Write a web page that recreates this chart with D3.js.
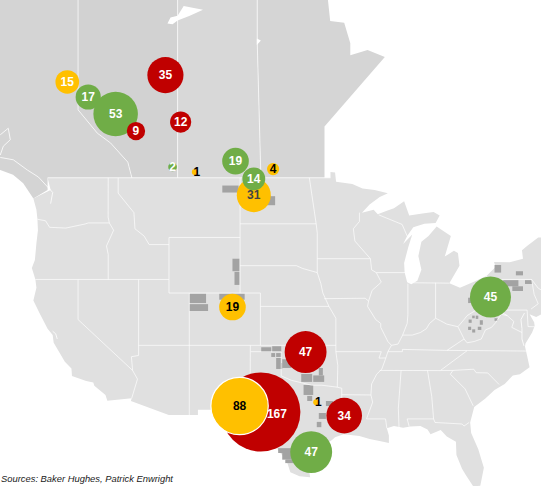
<!DOCTYPE html>
<html>
<head>
<meta charset="utf-8">
<title>Rig counts by basin</title>
<script src="https://d3js.org/d3.v7.min.js"></script>
<style>
    html, body { margin: 0; background: #fff; }
    svg { display: block; }
    .label { font-family: "Liberation Sans", sans-serif; font-size: 12px; font-weight: bold; text-anchor: middle; }
    .source { font-family: "Liberation Sans", sans-serif; font-size: 9.4px; font-style: italic; fill: #222; }
</style>
</head>
<body>
<svg id="map" width="541" height="486"></svg>
<script>
// bubble data, one entry per basin
var rigCounts = [15, 17, 53, 9, 35, 12, 2, 1, 19, 4, 31, 14, 19, 45, 47, 167, 88, 1, 34, 47];
var rigKinds = ["y", "g", "g", "r", "r", "r", "g", "y", "g", "y", "y", "g", "y", "g", "r", "r", "y", "y", "r", "g"];
var basinLon = [-121.06, -119.0, -116.3, -114.3, -111.4, -109.9, -110.7, -108.5, -104.5, -100.8, -102.7, -102.7, -104.8, -79.4, -97.6, -102.0, -104.1, -96.55, -93.8, -97.05];
var basinLat = [54.81, 53.95, 52.95, 51.93, 55.2, 52.47, 49.7, 49.37, 50.07, 49.56, 47.87, 48.93, 39.95, 40.7, 36.47, 31.58, 32.08, 32.4, 31.28, 28.16];
var kindColor = { r: "#c00000", g: "#70ad47", y: "#ffc000" };

// shale play acreage, [west, south, east, north]
var playBlocks = [
    [-105.8, 48.04, -104.2, 48.5], [-101.4, 47.2, -100.6, 47.8],
    [-104.8, 42.6, -104.1, 43.5], [-104.6, 41.6, -104.1, 42.55],
    [-109.05, 40.25, -107.4, 40.95], [-109.05, 39.65, -107.2, 40.17], [-106.1, 40.5, -103.6, 40.95],
    [-101.97, 36.47, -100.98, 36.85], [-100.89, 36.47, -100.0, 36.93], [-100.98, 36.08, -100.6, 36.39],
    [-100.5, 36.08, -100.0, 36.39], [-100.5, 35.6, -100.0, 36.0], [-100.5, 35.12, -99.9, 35.6], [-99.9, 35.2, -99.0, 35.9],
    [-98.03, 34.07, -96.95, 34.72], [-96.85, 34.07, -95.77, 34.6], [-96.3, 34.6, -95.9, 35.2],
    [-97.8, 33.0, -96.85, 33.82], [-97.44, 32.5, -96.95, 32.92],
    [-95.6, 32.08, -94.9, 32.5], [-96.3, 31.0, -95.6, 31.5], [-96.5, 30.3, -96.05, 30.75],
    [-100.3, 28.08, -98.8, 28.5], [-99.9, 27.5, -98.8, 28.08], [-99.6, 27.2, -98.6, 27.5],
    [-79.0, 42.5, -78.35, 43.05], [-76.9, 42.3, -76.2, 42.6],
    [-78.15, 41.5, -76.65, 41.95], [-77.25, 41.15, -76.2, 41.5], [-76.0, 41.67, -75.3, 41.95],
    [-81.55, 38.75, -81.25, 39.0], [-81.6, 38.2, -81.3, 38.45], [-81.2, 39.1, -80.95, 39.3], [-80.85, 39.05, -80.6, 39.3],
    [-80.45, 38.6, -80.15, 38.95], [-80.65, 38.2, -80.3, 38.45], [-81.2, 38.0, -80.9, 38.25],
    [-81.6, 40.25, -81.1, 40.65], [-79.0, 38.9, -78.7, 39.1]
];

// land outlines in lon/lat
var bcLand = [[-129, 61], [-120, 61], [-120, 53.2], [-118.1, 51.8], [-116.8, 51.2], [-115.1, 50], [-114.7, 49], [-123, 49], [-123, 48.2], [-124.4, 47.65], [-125.4, 48.65], [-126.4, 49.2], [-127.66, 49.5], [-129, 49.7]];
var abLand = [[-120, 61], [-110.2, 61], [-110.2, 49], [-114.7, 49], [-115.1, 50], [-116.8, 51.2], [-118.1, 51.8], [-120, 53.2]];
var skLand = [[-110.2, 61], [-102.36, 61], [-102.36, 57], [-102, 49], [-110.2, 49]];
var mbLand = [[-102.36, 61], [-95.4, 61], [-95.4, 59.2], [-95.18, 58.13], [-93.8, 58.03], [-93.2, 56.95], [-93.2, 56.3], [-91.5, 56.58], [-89.8, 56.2], [-95.74, 52.2], [-95.74, 49], [-102, 49], [-102.36, 57]];
var usLand = [[-124.4, 47.65], [-124.1, 46.9], [-124.0, 46.25], [-123.95, 45.5], [-124.1, 44.6], [-124.25, 43.4], [-124.55, 42.84], [-124.2, 42], [-124.1, 41.4], [-124.4, 40.45], [-123.8, 39.5], [-123, 38.3], [-122.5, 37.8], [-122.4, 37.2], [-121.95, 36.6], [-121.3, 35.7], [-120.65, 35.15], [-120.6, 34.55], [-119.2, 34.15], [-118.5, 34.03], [-118.4, 33.75], [-117.3, 33], [-117.12, 32.53],
    [-114.72, 32.72], [-114.8, 32.5], [-111.07, 31.33], [-108.2, 31.33], [-108.2, 31.78], [-106.5, 31.76], [-105, 30.65], [-104.5, 29.65], [-103.3, 29], [-102.7, 29.7], [-102.3, 29.88], [-101.4, 29.77], [-100.7, 29.1], [-100.3, 28.3], [-99.5, 27.5], [-99.1, 26.4], [-98.2, 26.05], [-97.15, 25.95],
    [-97.4, 27.3], [-97, 28], [-96.2, 28.5], [-95, 29.2], [-94.7, 29.45], [-93.85, 29.7], [-92.3, 29.55], [-91.3, 29.3], [-90.2, 29.1], [-89.4, 28.95], [-89.4, 29.6], [-89.6, 30.2], [-88.9, 30.4], [-88, 30.25], [-87.3, 30.35], [-86.3, 30.4], [-85.6, 30.1], [-85.3, 29.7], [-84.3, 30.05], [-83.7, 29.5], [-82.8, 29.05], [-82.75, 27.9], [-82.2, 26.7], [-81.8, 26.1], [-81.1, 25.15], [-80.4, 25.2], [-80.05, 26.8], [-80.6, 28.4], [-81.3, 29.8], [-81.4, 30.7], [-81, 32], [-79.9, 32.7], [-79, 33.4], [-78, 33.9], [-77.2, 34.6], [-76.5, 34.7], [-75.55, 35.25], [-75.8, 36.2], [-76, 36.9], [-75.95, 37.15], [-75.3, 38], [-75.05, 38.5], [-75.1, 38.8], [-75.55, 39.4], [-74.9, 39.2], [-74.4, 39.4], [-74, 40.4], [-73, 41], [-70, 43], [-67, 45], [-73.3, 45],
    [-74.7, 45], [-75.8, 44.4], [-76.3, 44.1], [-76.2, 43.5], [-77.5, 43.25], [-79.05, 43.27], [-78.9, 42.9], [-79.8, 42.25], [-81.2, 41.77], [-82.4, 41.4], [-83.45, 41.72], [-83.15, 42.1], [-82.45, 43], [-82.6, 43.9], [-83, 44.07], [-83.9, 43.65], [-83.3, 45.1], [-84.7, 45.75], [-85.5, 45.1], [-86.2, 44.7], [-86.5, 43.7], [-86.2, 42.7], [-86.6, 41.9], [-87.2, 41.65], [-87.6, 41.8], [-87.85, 42.5], [-87.9, 43.2], [-87.5, 44.3], [-87.1, 45.2], [-88, 44.55], [-87.6, 45.1], [-87, 45.7], [-85.9, 45.95], [-84.8, 46], [-84.4, 46.5], [-85, 46.75], [-86.1, 46.65], [-87.4, 46.5], [-87.9, 47.47], [-88.9, 47], [-89.6, 46.83], [-90.5, 46.6], [-90.9, 46.9], [-92.05, 46.7], [-91.3, 47.25], [-90.3, 47.75], [-89.5, 48], [-90.8, 48.2], [-92, 48.3], [-93, 48.6], [-94.6, 48.75], [-94.7, 49.35], [-95.15, 49.38], [-95.15, 49], [-123, 49], [-122.7, 48.2]];

// white water shapes
var athabasca = [[-111.2, 58], [-110.9, 58.3], [-110.2, 58.4], [-109.6, 58.9], [-108.6, 58.8], [-107.7, 58.7], [-109, 58.4], [-110.2, 58.15], [-110.7, 57.95]];
var reindeer = [[-102.4, 57.2], [-102, 57.1], [-102.4, 56.85]];

// province, state and shoreline lines
var borderLines = [
    [[-120, 61], [-120, 53.2], [-118.1, 51.8], [-116.8, 51.2], [-115.1, 50], [-114.7, 49]],
    [[-110.2, 61], [-110.2, 49]], [[-102.36, 61], [-102.36, 57], [-102, 49]],
    [[-123, 49], [-95.15, 49]],
    [[-124, 46.25], [-123.2, 46.15], [-122.8, 45.7], [-121.2, 45.65], [-119.3, 45.93], [-119, 46], [-116.92, 46]],
    [[-117.03, 49], [-117.04, 46.4], [-116.92, 46], [-116.5, 45.5], [-117.2, 44.4], [-117.03, 43.8], [-117.03, 42]],
    [[-124.2, 42], [-111.05, 42]],
    [[-116.05, 49], [-116.05, 48], [-114.5, 46.7], [-114.4, 45.6], [-113.5, 45.1], [-113, 44.5], [-111.05, 44.5]],
    [[-111.05, 45], [-104.05, 45]], [[-111.05, 45], [-111.05, 41], [-102.05, 41]],
    [[-104.05, 49], [-104.05, 41]], [[-104.05, 45.94], [-96.56, 45.94]],
    [[-104.05, 43], [-98.5, 43], [-97.9, 42.8], [-96.45, 42.5]],
    [[-102.05, 41], [-102.05, 37]], [[-102.05, 40], [-95.3, 40]],
    [[-114.05, 37], [-94.62, 37]], [[-114.04, 42], [-114.04, 36.2], [-114.75, 36.1], [-114.63, 35]],
    [[-109.05, 41], [-109.05, 31.33]],
    [[-103.04, 37], [-103.06, 32], [-106.6, 32], [-106.5, 31.78]],
    [[-103, 36.5], [-100, 36.5], [-100, 34.56], [-99, 34.2], [-98, 34], [-97, 33.8], [-96, 33.8], [-94.48, 33.64]],
    [[-94.62, 36.5], [-94.43, 35.4], [-94.48, 33.64], [-94.04, 33.55], [-94.04, 31.99], [-93.55, 31.2], [-93.7, 30.1], [-93.85, 29.7]],
    [[-94.04, 33.02], [-91.17, 33]],
    [[-94.62, 36.5], [-90.15, 36.5], [-90.37, 35.99], [-89.7, 36]],
    [[-94.62, 36.5], [-94.62, 39.1], [-95.3, 40]], [[-95.77, 40.58], [-91.73, 40.61], [-91.4, 40.4]],
    [[-96.45, 42.5], [-96.1, 41.7], [-95.9, 41], [-95.3, 40]],
    [[-96.56, 45.94], [-96.45, 45.3], [-96.45, 42.5]], [[-96.45, 43.5], [-91.22, 43.5]],
    [[-97.23, 49], [-96.56, 45.94]],
    [[-92.3, 46.7], [-92.3, 46.1], [-92.9, 45.6], [-92.75, 44.75], [-91.22, 43.5]],
    [[-90.4, 46.55], [-88.1, 45.9], [-87.6, 45.1]], [[-90.64, 42.5], [-87.8, 42.5]],
    [[-91.22, 43.5], [-91.1, 42.7], [-90.64, 42.5], [-90.15, 41.8], [-91.05, 41.2], [-91.4, 40.4], [-91.5, 40], [-90.7, 39], [-90.2, 38.7], [-90.2, 38.4], [-89.5, 37.3], [-89.15, 37], [-89.5, 36.5], [-89.7, 36], [-90.1, 35.1], [-90.6, 34.7], [-91.1, 33.9], [-91.17, 33], [-91, 32.4], [-91.6, 31], [-89.73, 31], [-89.6, 30.2]],
    [[-87.53, 41.7], [-87.53, 39.35], [-87.6, 38.7], [-88.05, 37.8]],
    [[-89.15, 37], [-88.5, 37.1], [-88.05, 37.8], [-87.1, 37.8], [-86.3, 38], [-85.7, 38.3], [-85.4, 38.7], [-84.8, 39.1], [-84.3, 38.9], [-83.7, 38.65], [-82.6, 38.45], [-82, 39], [-81.7, 39.3], [-80.85, 39.7], [-80.52, 40.64]],
    [[-84.8, 39.1], [-84.8, 41.76]], [[-87.2, 41.76], [-83.45, 41.73]],
    [[-80.52, 39.72], [-80.52, 41.98]], [[-80.52, 39.72], [-75.79, 39.72]],
    [[-79.76, 42.25], [-79.76, 42], [-75.35, 42], [-74.7, 41.36], [-73.9, 41]],
    [[-75.35, 42], [-75.1, 40.9], [-74.7, 40.2], [-75.4, 39.8]],
    [[-82.6, 38.45], [-82, 37.5], [-81.7, 37.2], [-81, 37.3], [-80.3, 37.5], [-79.9, 38.2], [-79.3, 38.4], [-78.85, 38.8], [-78.35, 39.4], [-77.75, 39.3]],
    [[-79.48, 39.72], [-79.48, 39.2], [-78.4, 39.6], [-77.75, 39.3], [-77.1, 38.85], [-77.3, 38.4], [-76.3, 38]],
    [[-89.5, 36.5], [-88.07, 36.5], [-88.07, 36.68], [-83.68, 36.6], [-81.68, 36.59], [-75.9, 36.55]],
    [[-83.68, 36.6], [-82, 37.5]],
    [[-90.3, 35], [-84.32, 34.99]], [[-88.2, 35], [-88.47, 31.9], [-88.4, 30.2]],
    [[-85.6, 35], [-85.18, 32.87], [-85, 31]], [[-87.6, 31], [-85, 31], [-84.86, 30.7], [-82.2, 30.57], [-82, 30.4], [-81.5, 30.7]],
    [[-87.6, 31], [-87.4, 30.35]],
    [[-84.32, 35], [-83, 35.8], [-81.68, 36.59]], [[-84.32, 35], [-83.1, 35]],
    [[-83.1, 35], [-83.35, 34.7], [-81.9, 33.5], [-81.1, 32.1]],
    [[-83.1, 35], [-81.05, 35.1], [-80.8, 34.82], [-79.67, 34.8], [-78.55, 33.86]],
    [[-75.79, 39.72], [-75.7, 38.46], [-75.05, 38.45]],
    [[-120, 42], [-120, 39], [-114.63, 35], [-114.15, 34.3], [-114.72, 32.72]]
];
var waterLines = [
    [[-127.66, 51.7], [-126.87, 52.1], [-126.67, 51.4], [-127.36, 51], [-127.66, 50.45]],
    [[-127.66, 50.3], [-126.37, 50.15], [-124.99, 49.5], [-123.9, 49.05], [-122.5, 48.05], [-122.7, 47.3]],
    [[-122.5, 38.1], [-122.2, 37.9], [-122.05, 37.5]],
    [[-76.05, 39.5], [-76.4, 39], [-76.3, 38.3], [-76.3, 37.5], [-76.1, 36.95]]
];

var sourceNote = "Sources: Baker Hughes, Patrick Enwright";

// plain mercator, matched to the 49th parallel and the state lines
var projection = d3.geoMercator()
    .scale(582)
    .translate([1297, 750.4]);

var svg = d3.select("#map");

var lineGen = d3.line()
    .x(function(p) { return projection(p)[0]; })
    .y(function(p) { return projection(p)[1]; });
var closedGen = d3.line()
    .curve(d3.curveLinearClosed)
    .x(function(p) { return projection(p)[0]; })
    .y(function(p) { return projection(p)[1]; });

function land(shape, fill) {
    svg.append("path").attr("d", closedGen(shape)).attr("fill", fill);
}
land(bcLand, "#d4d4d4");
land(abLand, "#d2d2d2");
land(skLand, "#d8d8d8");
land(mbLand, "#d5d5d5");
land(usLand, "#e0e0e0");
land(athabasca, "#fff");
land(reindeer, "#fff");

// gray play blocks, corners go through the projection
svg.append("g").selectAll("path")
    .data(playBlocks)
    .enter()
    .append("path")
    .attr("fill", "#a3a3a3")
    .attr("d", function(b) {
        return closedGen([[b[0], b[1]], [b[2], b[1]], [b[2], b[3]], [b[0], b[3]]]);
    });

svg.append("g").selectAll("path")
    .data(borderLines)
    .enter()
    .append("path")
    .attr("d", lineGen)
    .attr("fill", "none")
    .attr("stroke", "#fff")
    .attr("stroke-width", 0.8)
    .attr("stroke-opacity", 0.85);

svg.append("g").selectAll("path")
    .data(waterLines)
    .enter()
    .append("path")
    .attr("d", lineGen)
    .attr("fill", "none")
    .attr("stroke", "#fff")
    .attr("stroke-width", 0.8);

// bubbles
var radius = d3.scaleSqrt().domain([0, 167]).range([0, 39.5]);

var basins = rigCounts.map(function(n, i) {
    var p = projection([basinLon[i], basinLat[i]]);
    return { count: n, kind: rigKinds[i], x: p[0], y: p[1] };
});

svg.append("g").selectAll("circle")
    .data(basins)
    .enter()
    .append("circle")
    .attr("cx", function(d) { return d.x; })
    .attr("cy", function(d) { return d.y; })
    .attr("r", function(d) { return radius(d.count); })
    .attr("fill", function(d) { return kindColor[d.kind]; })
    .attr("stroke", function(d) { return d.count === 88 ? "#fff" : "none"; })
    .attr("stroke-width", 1.2);

// 167 sits half under the 88, its label moves right into the visible part
svg.append("g").selectAll("text")
    .data(basins)
    .enter()
    .append("text")
    .attr("class", "label")
    .attr("x", function(d) {
        if (d.count === 167) return d.x + 16;
        if (d.count === 1) return d.x + 2;
        return d.x;
    })
    .attr("y", function(d) { return d.y + 4.3 + (d.count === 167 ? 2 : 0); })
    .attr("fill", function(d) {
        if (d.count === 31) return "#444";
        if (d.count === 15) return "#fff";
        return d.kind === "y" ? "#000" : "#fff";
    })
    .text(function(d) { return d.count; });

svg.append("text")
    .attr("class", "source")
    .attr("x", 1)
    .attr("y", 482)
    .text(sourceNote);
</script>
</body>
</html>
